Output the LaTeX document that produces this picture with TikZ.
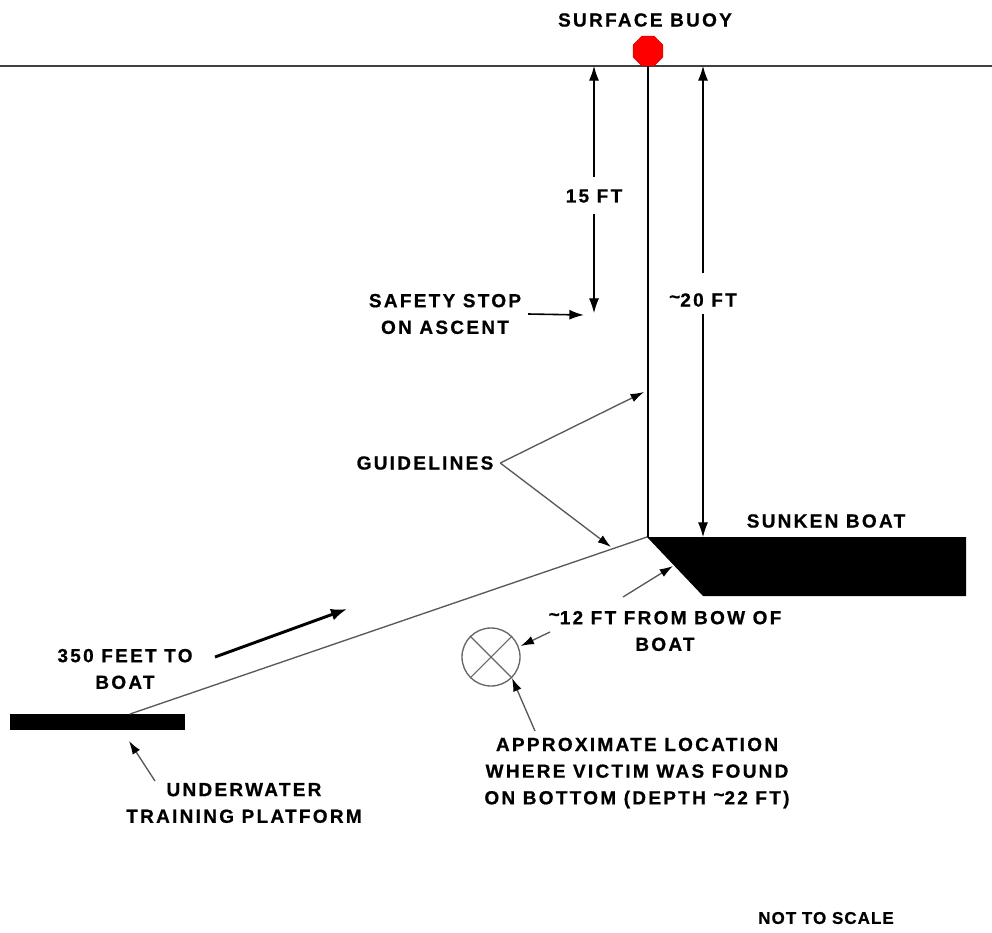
\documentclass[tikz,border=0pt]{standalone}
\usepackage{fontspec}
\usetikzlibrary{arrows.meta,shapes.geometric}
\newfontfamily\lblfont{Liberation Sans}[LetterSpace=12, BoldFeatures={FakeBold=0.6}]
\newfontfamily\nfont{Liberation Sans}[LetterSpace=6, BoldFeatures={FakeBold=0.6}]
\newcommand{\hitilde}{\raisebox{2.5pt}{\textasciitilde}}
\begin{document}
\begin{tikzpicture}[x=0.75pt,y=-0.75pt,
  lbl/.style={font=\lblfont\bfseries\fontsize{14.25}{20}\selectfont, align=center, inner sep=0pt, text=black},
  arr/.style={-{Latex[length=11pt,width=7.5pt]}, line width=0.8pt, draw=black},
  garr/.style={-{Latex[length=10pt,width=6.5pt,color=black]}, line width=1pt, draw=black!65},
  rope/.style={line width=1pt, draw=black!65},
  solid rope/.style={line width=0.9pt, draw=black}
]
\useasboundingbox (0,0) rectangle (992,932);
\fill[white] (0,0) rectangle (992,932);

% water surface
\coordinate (sL) at (0,66);
\coordinate (sR) at (992,66);
\draw[line width=1pt, draw=black!75] (sL) -- (sR);

% sunken boat
\coordinate (bow) at (647,537);
\fill[black] (bow) -- (966,537) -- (966,596) -- (703,596) -- cycle;
\node[lbl] (sunken) at (826,521) {SUNKEN BOAT};

% platform
\fill[black] (10,714) rectangle (185,730);
\coordinate (plat) at (130,714);

% ropes
\draw[rope] (plat) -- (bow);
\coordinate (buoyBase) at (648,66);
\draw[solid rope] (buoyBase) -- (648,537);

% buoy
\node[regular polygon, regular polygon sides=8, minimum size=24pt, inner sep=0pt, fill=red, draw=red!80!black, line width=0.4pt] (buoy) at (648,51) {};
\node[lbl] (buoylbl) at (645,20) {SURFACE BUOY};

% 15 FT dimension
\coordinate (t15) at (594,66);
\coordinate (b15) at (594,313);
\node[lbl] (l15) at (594,196) {15 FT};
\draw[arr] ([yshift=9pt]l15.north) -- (t15);
\draw[arr] ([yshift=-8pt]l15.south) -- (b15);

% ~20 FT dimension
\coordinate (t20) at (703,66);
\coordinate (b20) at (703,537);
\node[lbl] (l20) at (703,300) {\hitilde20 FT};
\draw[arr] ([yshift=15pt]l20.north) -- (t20);
\draw[arr] ([yshift=-5pt]l20.south) -- (b20);

% safety stop
\node[lbl] (safety) at (445,314) {SAFETY STOP\\ON ASCENT};
\coordinate (ssTip) at (584,315);
\draw[arr, line width=1.2pt] ([xshift=5pt]safety.east) -- (ssTip);

% guidelines
\node[lbl] (guide) at (425,463) {GUIDELINES};
\coordinate (gA) at (644,392);
\coordinate (gB) at (611,547);
\draw[garr] ([xshift=5pt]guide.east) -- (gA);
\draw[garr] ([xshift=5pt]guide.east) -- (gB);

% 350 feet
\node[lbl] (feet) at (125,669) {350 FEET TO\\BOAT};
\coordinate (fA) at (215,657);
\coordinate (fB) at (347,609);
\draw[-{Latex[length=12pt,width=9pt]}, line width=2.2pt] (fA) -- (fB);

% platform label
\node[lbl] (platlbl) at (244,803) {UNDERWATER\\TRAINING PLATFORM};
\coordinate (pTip) at (129,741);
\draw[garr] (155,781) -- (pTip);

% ~12 ft label
\node[lbl] (twelve) at (665,631) {\hitilde12 FT FROM BOW OF\\BOAT};
\coordinate (tA) at (623,597);
\coordinate (tB) at (673,566);
\draw[garr] (tA) -- (tB);

% victim location
\node[circle, draw=black!60, line width=1pt, minimum size=43.5pt, inner sep=0pt] (victim) at (491,657) {};
\draw[black!60, line width=0.8pt] (victim.north west) -- (victim.south east);
\draw[black!60, line width=0.8pt] (victim.north east) -- (victim.south west);
\coordinate (vA) at (550,632);
\draw[garr] (vA) -- (victim.east |- 0,646);

\node[lbl] (approx) at (637,773) {APPROXIMATE LOCATION\\WHERE VICTIM WAS FOUND\\ON BOTTOM (DEPTH \hitilde22 FT)};
\coordinate (aA) at (535,731);
\draw[garr] (aA) -- (victim.south east);

% not to scale
\node[font=\nfont\bfseries\fontsize{12.75}{15}\selectfont, inner sep=0pt] (nts) at (826,918) {NOT TO SCALE};
\end{tikzpicture}
\end{document}
